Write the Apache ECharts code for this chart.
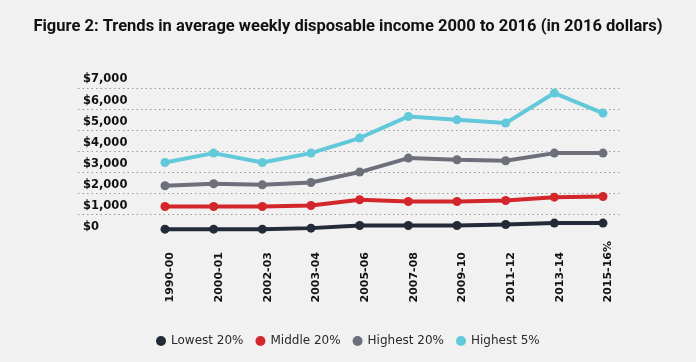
<!DOCTYPE html>
<html>
<head>
<meta charset="utf-8">
<script src="https://cdn.jsdelivr.net/npm/echarts@6/dist/echarts.min.js"></script>
<style>
html,body{margin:0;padding:0;background:#f1f1f1;}
#chart{width:696px;height:362px;}
</style>
</head>
<body>
<div id="chart"></div>
<script>
const titleText = 'Figure 2: Trends in average weekly disposable income 2000 to 2016 (in 2016 dollars)';
const categories = ['1990-00','2000-01','2002-03','2003-04','2005-06','2007-08','2009-10','2011-12','2013-14','2015-16%'];
const seriesNames = ['Lowest 20%','Middle 20%','Highest 20%','Highest 5%'];
const lowest20 = [300,300,300,350,475,475,475,520,590,590];
const middle20 = [1375,1375,1375,1425,1695,1615,1615,1660,1820,1850];
const highest20 = [2360,2455,2405,2515,3010,3675,3595,3545,3910,3910];
const highest5 = [3465,3910,3465,3910,4625,5650,5490,5335,6760,5810];
const yMin = 0, yMax = 7000, yStep = 1000;

const colors = ['#232b38','#d3262a','#6d707a','#62c9db'];
const dataSets = [lowest20, middle20, highest20, highest5];

const chart = echarts.init(document.getElementById('chart'));
const splitColors = [];
for (let v = yMin; v <= yMax; v += yStep) splitColors.push(v === yMin ? 'rgba(0,0,0,0)' : '#9a9a9a');

chart.setOption({
  backgroundColor: '#f1f1f1',
  animation: false,
  title: {
    text: titleText,
    left: 'center',
    top: 13,
    textStyle: {fontFamily: 'Roboto', fontWeight: 'bold', fontSize: 16.5, color: '#111'}
  },
  legend: {
    data: seriesNames,
    left: 151,
    top: 330,
    icon: 'circle',
    itemWidth: 10,
    itemHeight: 10,
    itemGap: 12,
    textStyle: {fontFamily: 'DejaVu Sans', fontSize: 12, color: '#2a2a2a'}
  },
  grid: [
    {left: 78, right: 74, top: 88, height: 147.5},
    {left: 165, right: 93, top: 88, height: 147.5}
  ],
  xAxis: [
    {gridIndex: 0, type: 'category', data: categories, show: false},
    {
      gridIndex: 1, type: 'category', data: categories, boundaryGap: false,
      axisLine: {show: false}, axisTick: {show: false}, splitLine: {show: false},
      axisLabel: {
        rotate: 90, align: 'left', verticalAlign: 'top', margin: 67, interval: 0,
        fontFamily: 'DejaVu Sans', fontWeight: 'bold', fontSize: 11, color: '#111'
      }
    }
  ],
  yAxis: [
    {
      gridIndex: 0, type: 'value', min: yMin, max: yMax, interval: yStep,
      axisLine: {show: false}, axisTick: {show: false},
      splitLine: {show: true, lineStyle: {color: splitColors, type: [1.5, 3], width: 1}},
      axisLabel: {
        inside: true, margin: 5, verticalAlign: 'bottom', lineHeight: 17,
        fontFamily: 'DejaVu Sans', fontWeight: 'bold', fontSize: 11.5, color: '#111',
        formatter: v => '$' + v.toLocaleString('en-US')
      }
    },
    {gridIndex: 1, type: 'value', min: yMin, max: yMax, interval: yStep, show: false, splitLine: {show: false}}
  ],
  series: seriesNames.map((name, i) => ({
    name: name,
    type: 'line',
    xAxisIndex: 1,
    yAxisIndex: 1,
    data: dataSets[i],
    symbol: 'circle',
    symbolSize: 9,
    lineStyle: {width: 4, color: colors[i]},
    itemStyle: {color: colors[i]},
    z: 2 + i
  }))
});
</script>
</body>
</html>
